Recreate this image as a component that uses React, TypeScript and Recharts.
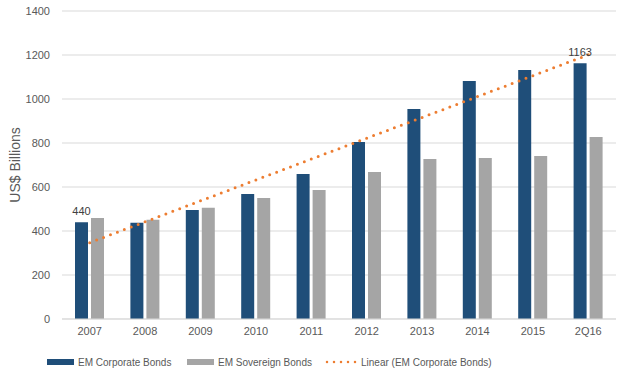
import React from "react";
import { ComposedChart, Bar, Line, XAxis, YAxis, CartesianGrid, Legend, LabelList, Label } from "recharts";

const categories = ["2007", "2008", "2009", "2010", "2011", "2012", "2013", "2014", "2015", "2Q16"];
const corporate = [440, 437, 495, 568, 659, 805, 955, 1082, 1132, 1163];
const sovereign = [459, 451, 506, 550, 586, 668, 727, 732, 741, 827];
// Excel linear trendline of the corporate series
const trend = [347, 442, 537, 632, 727, 822, 916, 1011, 1106, 1201];
// only first and last bars are labelled
const corpLabels = ["440", "", "", "", "", "", "", "", "", "1163"];
const yTicks = [0, 200, 400, 600, 800, 1000, 1200, 1400];

const data = categories.map((c, i) => ({
  label: c,
  corporate: corporate[i],
  sovereign: sovereign[i],
  trend: trend[i],
  corpLabel: corpLabels[i],
}));

const legendLeft = [47, 187, 325];

function LegendContent(props: any) {
  const items = props.payload || [];
  return (
    <div style={{ position: "relative", width: 622, height: 29, fontSize: 10, color: "#595959" }}>
      {items.map((it: any, i: number) => (
        <div
          key={it.value}
          style={{ position: "absolute", left: legendLeft[i], top: 7, height: 12, display: "flex", alignItems: "center" }}
        >
          {i < 2 ? (
            <span style={{ display: "inline-block", width: 27, height: 6, background: it.color, marginRight: 4 }} />
          ) : (
            <svg width={34} height={6} style={{ marginRight: 2 }}>
              <line x1={2} y1={3} x2={32} y2={3} stroke={it.color} strokeWidth={2.5} strokeDasharray="0 7" strokeLinecap="round" />
            </svg>
          )}
          <span style={{ whiteSpace: "nowrap" }}>{it.value}</span>
        </div>
      ))}
    </div>
  );
}

export default function App() {
  return (
    <div style={{ position: "absolute", left: 0, top: 0, background: "#fff" }}>
      <ComposedChart
        width={622}
        height={378}
        data={data}
        margin={{ top: 11, right: 6, left: 0, bottom: 0 }}
        barGap={3}
        style={{ fontFamily: "'Liberation Sans', Arial, sans-serif" }}
      >
        <CartesianGrid vertical={false} stroke="#d9d9d9" />
        <XAxis
          dataKey="label"
          height={30}
          tickLine={false}
          axisLine={{ stroke: "#d9d9d9" }}
          tick={{ fontSize: 11, fill: "#595959" }}
          interval={0}
        />
        <YAxis
          width={62}
          domain={[0, 1400]}
          ticks={yTicks}
          axisLine={false}
          tickLine={false}
          tickMargin={6}
          tick={{ fontSize: 11, fill: "#595959" }}
        >
          <Label
            value="US$ Billions"
            angle={-90}
            position="insideLeft"
            offset={15}
            style={{ textAnchor: "middle", fontSize: 14, fill: "#595959" }}
          />
        </YAxis>
        <Legend verticalAlign="bottom" content={<LegendContent />} />
        <Bar dataKey="corporate" name="EM Corporate Bonds" fill="#1f4e79" barSize={13} isAnimationActive={false}>
          <LabelList dataKey="corpLabel" position="top" offset={7} style={{ fontSize: 11, fill: "#404040" }} />
        </Bar>
        <Bar dataKey="sovereign" name="EM Sovereign Bonds" fill="#a5a5a5" barSize={13} isAnimationActive={false} />
        <Line
          type="linear"
          dataKey="trend"
          name="Linear (EM Corporate Bonds)"
          stroke="#ed7d31"
          strokeWidth={3}
          strokeDasharray="0 7.4"
          strokeLinecap="round"
          dot={false}
          activeDot={false}
          isAnimationActive={false}
        />
      </ComposedChart>
    </div>
  );
}
